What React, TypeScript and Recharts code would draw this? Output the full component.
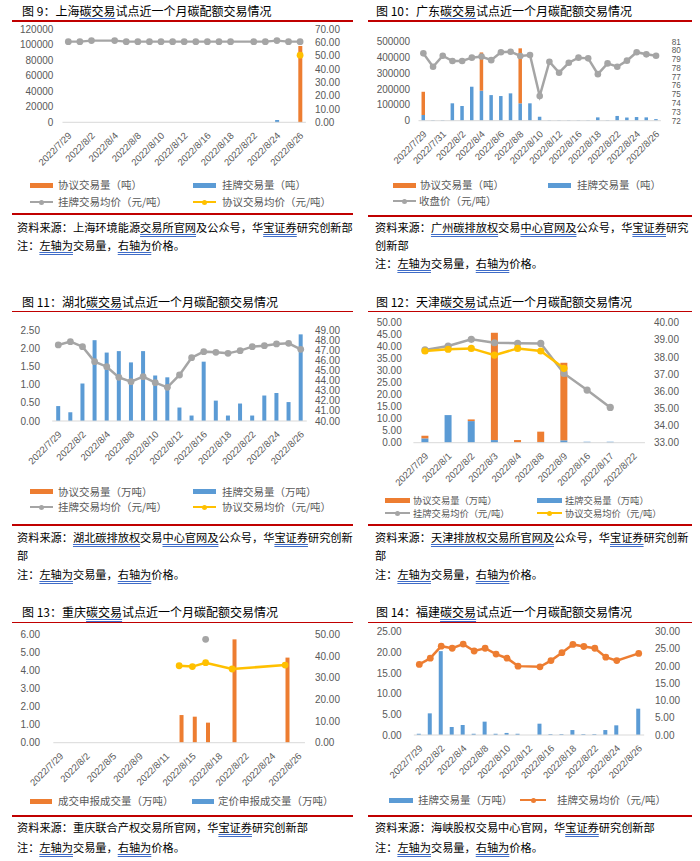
import React from 'react';
import { ComposedChart, Bar, Line, XAxis, YAxis } from 'recharts';

const NUM = '"Liberation Sans", Arial, sans-serif';
const CJK = '"Noto Sans CJK SC", "Noto Sans", sans-serif';
const AX = '#595959';
const ORANGE = '#ED7D31';
const BLUE = '#5B9BD5';
const GRAY = '#A5A5A5';
const YELLOW = '#FFC000';
const RED = '#C00000';
const ULC = '#3f6cc8';

// ---------- 上海 ----------
const shDates = ['2022/7/29','2022/8/1','2022/8/2','2022/8/3','2022/8/4','2022/8/5','2022/8/8','2022/8/9','2022/8/10','2022/8/11','2022/8/12','2022/8/15','2022/8/16','2022/8/17','2022/8/18','2022/8/19','2022/8/22','2022/8/23','2022/8/24','2022/8/25','2022/8/26'];
const shXieyiVol = [null,null,null,null,null,null,null,null,null,null,null,null,null,null,null,null,null,null,null,null,98500];
const shGuapaiVol = [null,null,null,null,null,null,null,null,null,null,null,null,null,null,null,null,null,null,3000,null,null];
const shGuapaiPrice = [60.7,60.7,61.5,null,61.5,60.7,60.7,60.7,60.7,60.7,60.7,60.7,60.7,60.7,60.7,null,60.7,60.7,61.5,60.7,60.7];
const shXieyiPrice = [null,null,null,null,null,null,null,null,null,null,null,null,null,null,null,null,null,null,null,null,50.5];

// ---------- 广东 ----------
const gdDates = ['2022/7/29','2022/7/30','2022/7/31','2022/8/1','2022/8/2','2022/8/3','2022/8/4','2022/8/5','2022/8/6','2022/8/7','2022/8/8','2022/8/9','2022/8/10','2022/8/11','2022/8/12','2022/8/15','2022/8/16','2022/8/17','2022/8/18','2022/8/19','2022/8/22','2022/8/23','2022/8/24','2022/8/25','2022/8/26'];
const gdGuapaiVol = [36000,4000,4000,110000,93000,215000,190000,162000,156000,173000,110000,110000,25000,3000,3000,3000,3000,3000,21000,3000,30000,20000,23000,21000,10000];
const gdXieyiVol = [147000,null,null,null,null,null,242000,null,null,null,348000,null,null,null,null,null,null,null,null,null,null,null,null,null,null];
const gdClose = [79.67,78.15,79.4,78.8,78.8,79.18,79.3,78.9,79.8,79.86,79.37,79.48,74.8,78.72,77.47,78.6,79.18,79.1,77.3,78.53,78.15,78.84,79.8,79.56,79.4];

// ---------- 湖北 ----------
const hbDates = shDates;
const hbGuapaiVol = [0.41,0.24,1.03,2.22,1.88,1.92,1.61,1.92,1.25,1.2,0.37,0.15,1.63,0.56,0.15,0.48,0.15,0.7,0.77,0.52,2.38];
const hbGuapaiPrice = [47.52,47.85,47.35,45.87,45.37,44.32,43.89,44.38,43.79,43.33,44.55,46.26,46.86,46.79,46.69,46.96,47.35,47.45,47.62,47.68,47.09];

// ---------- 天津 ----------
const tjDates = ['2022/7/29','2022/8/1','2022/8/2','2022/8/3','2022/8/4','2022/8/8','2022/8/9','2022/8/16','2022/8/17','2022/8/22'];
const tjGuapaiVol = [1.8,11.5,9.0,1.1,0.1,0.3,1.0,0.4,0.4,null];
const tjXieyiVol = [1.1,null,0.7,44.7,1.0,4.3,32.3,null,null,null];
const tjGuapaiPrice = [38.41,38.64,39.03,38.83,38.8,38.79,37.04,36.07,35.06,null];
const tjXieyiPrice = [38.35,38.45,38.5,38.11,38.5,38.35,37.34,null,null,null];

// ---------- 重庆 ----------
const cqDates = ['2022/7/29','2022/8/1','2022/8/2','2022/8/3','2022/8/5','2022/8/8','2022/8/9','2022/8/10','2022/8/11','2022/8/12','2022/8/15','2022/8/16','2022/8/18','2022/8/19','2022/8/22','2022/8/23','2022/8/24','2022/8/25','2022/8/26'];
const cqChengjiaoVol = [null,null,null,null,null,null,null,null,null,1.53,1.44,1.11,null,5.72,null,null,null,4.71,null];
const cqDingjiaVol = [null,null,null,null,null,null,null,null,null,null,null,null,null,null,null,null,null,null,null];
const cqChengjiaoPrice = [null,null,null,null,null,null,null,null,null,35.5,35.1,36.9,null,34.0,null,null,null,35.8,null];
const cqDingjiaPrice = [null,null,null,null,null,null,null,null,null,null,null,47.7,null,null,null,null,null,null,null];

// ---------- 福建 ----------
const fjDates = shDates;
const fjGuapaiVol = [0.3,5.24,20.3,1.94,2.42,0.3,3.23,0.3,0.5,0.3,null,2.74,0.2,0.2,1.2,0.2,0.2,1.2,2.34,null,6.37];
const fjGuapaiPrice = [20.5,22.3,25.8,25.2,26.4,24.4,25.2,23.5,22.3,20.0,null,19.8,21.6,23.9,26.3,25.7,25.2,22.6,21.6,null,23.7];

const shData = shDates.map((d, i) => ({ d, xv: shXieyiVol[i], gv: shGuapaiVol[i], gp: shGuapaiPrice[i], xp: shXieyiPrice[i] }));
const gdData = gdDates.map((d, i) => ({ d, xv: gdXieyiVol[i], gv: gdGuapaiVol[i], cp: gdClose[i] }));
const hbData = hbDates.map((d, i) => ({ d, xv: null, gv: hbGuapaiVol[i], gp: hbGuapaiPrice[i], xp: null }));
const tjData = tjDates.map((d, i) => ({ d, xv: tjXieyiVol[i], gv: tjGuapaiVol[i], gp: tjGuapaiPrice[i], xp: tjXieyiPrice[i] }));
const cqData = cqDates.map((d, i) => ({ d, cv: cqChengjiaoVol[i], dv: cqDingjiaVol[i], cp: cqChengjiaoPrice[i], dp: cqDingjiaPrice[i] }));
const fjData = fjDates.map((d, i) => ({ d, gv: fjGuapaiVol[i], gp: fjGuapaiPrice[i] }));

type G = { left: number; top: number; width: number; pl: number; pr: number; pt: number; pb: number; lg: number; rg: number; xh: number };
type AC = { domain: [number, number]; ticks: number[]; dec: number; fs?: number };

function RotTick(props: any) {
  const { x, y, payload } = props;
  const ax = x + 4;
  const ay = y + 14;
  return (
    <text x={ax} y={ay} transform={`rotate(-45 ${ax} ${ay})`} textAnchor="end" fontSize={9.5} fill={AX} fontFamily={NUM}>
      {payload.value}
    </text>
  );
}

function axes(g: G, L: AC, R: AC, interval: number) {
  return [
    <XAxis key="x" dataKey="d" interval={interval} axisLine={{ stroke: '#D9D9D9' }} tickLine={false} tickSize={0} tickMargin={0} height={g.xh} tick={(p: any) => <RotTick {...p} />} />,
    <YAxis key="yl" yAxisId="l" orientation="left" width={g.pl - g.left} domain={L.domain} ticks={L.ticks} interval={0}
      tickFormatter={(v: number) => v.toFixed(L.dec)} axisLine={false} tickLine={false} tickSize={0} tickMargin={g.lg}
      tick={{ fontSize: L.fs || 10, fill: AX, fontFamily: NUM }} />,
    <YAxis key="yr" yAxisId="r" orientation="right" width={g.left + g.width - g.pr} domain={R.domain} ticks={R.ticks} interval={0}
      tickFormatter={(v: number) => v.toFixed(R.dec)} axisLine={false} tickLine={false} tickSize={0} tickMargin={g.rg}
      tick={{ fontSize: R.fs || 10, fill: AX, fontFamily: NUM }} />,
  ];
}

function dot(c: string, r = 3.4) {
  return { r, fill: c, stroke: c, strokeWidth: 0 };
}

const g9: G = { left: 0, top: 0, width: 350, pl: 62.5, pr: 305.9, pt: 29.3, pb: 122.3, lg: 9.2, rg: 9.1, xh: 55 };
const g10: G = { left: 350, top: 0, width: 350, pl: 418.5, pr: 660.9, pt: 41.7, pb: 120.7, lg: 8.5, rg: 10.8, xh: 55 };
const g11: G = { left: 0, top: 290, width: 350, pl: 52.2, pr: 306.8, pt: 330, pb: 421, lg: 12.2, rg: 8.2, xh: 55 };
const g12: G = { left: 350, top: 290, width: 350, pl: 413.4, pr: 645, pt: 322.7, pb: 442.7, lg: 11.7, rg: 9, xh: 55 };
const g13: G = { left: 0, top: 600, width: 350, pl: 53.3, pr: 305, pt: 634.3, pb: 742.7, lg: 13.3, rg: 10, xh: 55 };
const g14: G = { left: 350, top: 600, width: 350, pl: 413.8, pr: 644.2, pt: 631.7, pb: 735, lg: 12.1, rg: 10.8, xh: 55 };

function Box({ g, children }: { g: G; children: React.ReactNode }) {
  return <div style={{ position: 'absolute', left: g.left, top: g.top }}>{children}</div>;
}

const ul: React.CSSProperties = { textDecorationLine: 'underline', textDecorationStyle: 'double', textDecorationColor: ULC, textUnderlineOffset: 2 };
const U = ({ children }: { children: React.ReactNode }) => <span style={ul}>{children}</span>;

function T({ x, y, fs = 11.2, color = '#000', children }: { x: number; y: number; fs?: number; color?: string; children: React.ReactNode }) {
  return (
    <div style={{ position: 'absolute', left: x, top: y - 9, height: 18, lineHeight: '18px', fontSize: fs, color, whiteSpace: 'nowrap', fontFamily: CJK }}>
      {children}
    </div>
  );
}

function Title({ x, y, n, region }: { x: number; y: number; n: string; region: string }) {
  return (
    <T x={x} y={y} fs={12}>
      图 {n}：{region}<U>碳交易</U>试点近一个月碳配额交易情况
    </T>
  );
}

function RedLine({ x1, x2, y }: { x1: number; x2: number; y: number }) {
  return <div style={{ position: 'absolute', left: x1, top: y - 0.75, width: x2 - x1, height: 1.5, background: RED }} />;
}

function Leg({ x, y, tx, kind, color, text, fs = 10.5, w = 23 }: { x: number; y: number; tx: number; kind: 'bar' | 'line'; color: string; text: string; fs?: number; w?: number }) {
  return (
    <>
      {kind === 'bar' ? (
        <div style={{ position: 'absolute', left: x, top: y - 2.5, width: w, height: 5, background: color }} />
      ) : (
        <>
          <div style={{ position: 'absolute', left: x, top: y - 1, width: w, height: 2, background: color }} />
          <div style={{ position: 'absolute', left: x + w / 2 - 2.5, top: y - 2.5, width: 5, height: 5, borderRadius: 3, background: color }} />
        </>
      )}
      <T x={tx} y={y} fs={fs} color={AX}>{text}</T>
    </>
  );
}

const Note = ({ x, y }: { x: number; y: number }) => (
  <T x={x} y={y}>注：<U>左轴为</U>交易量，<U>右轴为</U>价格。</T>
);

export default function App() {
  return (
    <div style={{ position: 'absolute', left: 0, top: 0, width: 700, height: 861, background: '#fff', overflow: 'hidden', fontFamily: CJK }}>
      {/* ---------- Row 1 ---------- */}
      <Title x={22} y={11} n="9" region="上海" />
      <Title x={376} y={11} n="10" region="广东" />
      <RedLine x1={12} x2={353} y={21} />
      <RedLine x1={368} x2={692} y={21} />

      <Box g={g9}>
        <ComposedChart width={g9.width} height={g9.pb - g9.top + g9.xh} data={shData} margin={{ top: g9.pt - g9.top, right: 0, left: 0, bottom: 0 }}>
          {axes(g9, { domain: [0, 120000], ticks: [0, 20000, 40000, 60000, 80000, 100000, 120000], dec: 0 }, { domain: [0, 70], ticks: [0, 10, 20, 30, 40, 50, 60, 70], dec: 2 }, 1)}
          <Bar yAxisId="l" dataKey="gv" stackId="s" fill={BLUE} barSize={4} isAnimationActive={false} />
          <Bar yAxisId="l" dataKey="xv" stackId="s" fill={ORANGE} barSize={4} isAnimationActive={false} />
          <Line yAxisId="r" type="linear" dataKey="gp" stroke={GRAY} strokeWidth={2.25} dot={dot(GRAY)} activeDot={false} connectNulls isAnimationActive={false} />
          <Line yAxisId="r" type="linear" dataKey="xp" stroke={YELLOW} strokeWidth={2.25} dot={dot(YELLOW)} activeDot={false} connectNulls isAnimationActive={false} />
        </ComposedChart>
      </Box>
      <Leg x={30} y={185} tx={58} kind="bar" color={ORANGE} text="协议交易量（吨）" />
      <Leg x={193} y={185} tx={222} kind="bar" color={BLUE} text="挂牌交易量（吨）" />
      <Leg x={30} y={202} tx={58} kind="line" color={GRAY} text="挂牌交易均价（元/吨）" />
      <Leg x={193} y={202} tx={222} kind="line" color={YELLOW} text="协议交易均价（元/吨）" />
      <RedLine x1={12} x2={353} y={214} />
      <T x={17} y={227}>资料来源：上海环境能源<U>交易所官网</U>及公众号，华<U>宝证券</U>研究创新部</T>
      <Note x={17} y={245} />

      <Box g={g10}>
        <ComposedChart width={g10.width} height={g10.pb - g10.top + g10.xh} data={gdData} margin={{ top: g10.pt - g10.top, right: 0, left: 0, bottom: 0 }}>
          {axes(g10, { domain: [0, 500000], ticks: [0, 100000, 200000, 300000, 400000, 500000], dec: 0 }, { domain: [72, 81], ticks: [72, 73, 74, 75, 76, 77, 78, 79, 80, 81], dec: 0, fs: 8.2 }, 1)}
          <Bar yAxisId="l" dataKey="gv" stackId="s" fill={BLUE} barSize={3.5} isAnimationActive={false} />
          <Bar yAxisId="l" dataKey="xv" stackId="s" fill={ORANGE} barSize={3.5} isAnimationActive={false} />
          <Line yAxisId="r" type="linear" dataKey="cp" stroke={GRAY} strokeWidth={2.5} dot={dot(GRAY, 3.3)} activeDot={false} connectNulls isAnimationActive={false} />
        </ComposedChart>
      </Box>
      <Leg x={393} y={185} tx={420} kind="bar" color={ORANGE} text="协议交易量（吨）" />
      <Leg x={548} y={185} tx={577} kind="bar" color={BLUE} text="挂牌交易量（吨）" />
      <Leg x={393} y={201} tx={419} kind="line" color={GRAY} text="收盘价（元/吨）" />
      <RedLine x1={368} x2={692} y={216} />
      <T x={375} y={227}>资料来源：<U>广州碳排放权</U>交易<U>中心官网及</U>公众号，华<U>宝证券</U>研究</T>
      <T x={375} y={245}>创新部</T>
      <Note x={375} y={263} />

      {/* ---------- Row 2 ---------- */}
      <Title x={22} y={301.5} n="11" region="湖北" />
      <Title x={376} y={301.5} n="12" region="天津" />
      <RedLine x1={12} x2={353} y={311.5} />
      <RedLine x1={368} x2={692} y={311.5} />

      <Box g={g11}>
        <ComposedChart width={g11.width} height={g11.pb - g11.top + g11.xh} data={hbData} margin={{ top: g11.pt - g11.top, right: 0, left: 0, bottom: 0 }}>
          {axes(g11, { domain: [0, 2.5], ticks: [0, 0.5, 1, 1.5, 2, 2.5], dec: 2 }, { domain: [40, 49], ticks: [40, 41, 42, 43, 44, 45, 46, 47, 48, 49], dec: 2 }, 1)}
          <Bar yAxisId="l" dataKey="gv" stackId="s" fill={BLUE} barSize={4} isAnimationActive={false} />
          <Bar yAxisId="l" dataKey="xv" stackId="s" fill={ORANGE} barSize={4} isAnimationActive={false} />
          <Line yAxisId="r" type="linear" dataKey="gp" stroke={GRAY} strokeWidth={2.5} dot={dot(GRAY, 3.4)} activeDot={false} connectNulls isAnimationActive={false} />
          <Line yAxisId="r" type="linear" dataKey="xp" stroke={YELLOW} strokeWidth={2.5} dot={dot(YELLOW, 3.4)} activeDot={false} connectNulls isAnimationActive={false} />
        </ComposedChart>
      </Box>
      <Leg x={30} y={491.5} tx={58} kind="bar" color={ORANGE} text="协议交易量（万吨）" />
      <Leg x={193} y={491.5} tx={222} kind="bar" color={BLUE} text="挂牌交易量（万吨）" />
      <Leg x={30} y={507} tx={58} kind="line" color={GRAY} text="挂牌交易均价（元/吨）" />
      <Leg x={193} y={507} tx={222} kind="line" color={YELLOW} text="协议交易均价（元/吨）" />

      <Box g={g12}>
        <ComposedChart width={g12.width} height={g12.pb - g12.top + g12.xh} data={tjData} margin={{ top: g12.pt - g12.top, right: 0, left: 0, bottom: 0 }}>
          {axes(g12, { domain: [0, 50], ticks: [0, 5, 10, 15, 20, 25, 30, 35, 40, 45, 50], dec: 2 }, { domain: [33, 40], ticks: [33, 34, 35, 36, 37, 38, 39, 40], dec: 2 }, 0)}
          <Bar yAxisId="l" dataKey="gv" stackId="s" fill={BLUE} barSize={7} isAnimationActive={false} />
          <Bar yAxisId="l" dataKey="xv" stackId="s" fill={ORANGE} barSize={7} isAnimationActive={false} />
          <Line yAxisId="r" type="linear" dataKey="gp" stroke={GRAY} strokeWidth={2.5} dot={dot(GRAY, 3.6)} activeDot={false} connectNulls isAnimationActive={false} />
          <Line yAxisId="r" type="linear" dataKey="xp" stroke={YELLOW} strokeWidth={2.5} dot={dot(YELLOW, 3.6)} activeDot={false} connectNulls isAnimationActive={false} />
        </ComposedChart>
      </Box>
      <Leg x={385} y={500} tx={413} kind="bar" color={ORANGE} text="协议交易量（万吨）" fs={9.3} w={25} />
      <Leg x={537} y={500} tx={565} kind="bar" color={BLUE} text="挂牌交易量（万吨）" fs={9.3} w={25} />
      <Leg x={385} y={513} tx={413} kind="line" color={GRAY} text="挂牌交易均价（元/吨）" fs={9.3} w={25} />
      <Leg x={537} y={513} tx={565} kind="line" color={YELLOW} text="协议交易均价（元/吨）" fs={9.3} w={25} />

      <RedLine x1={12} x2={353} y={525} />
      <RedLine x1={368} x2={692} y={525} />
      <T x={17} y={537}>资料来源：<U>湖北碳排放权</U>交易<U>中心官网及</U>公众号，华<U>宝证券</U>研究创新</T>
      <T x={17} y={555}>部</T>
      <Note x={17} y={574} />
      <T x={375} y={537}>资料来源：<U>天津排放权交易所官网及</U>公众号，华<U>宝证券</U>研究创新</T>
      <T x={375} y={555}>部</T>
      <Note x={375} y={574} />

      {/* ---------- Row 3 ---------- */}
      <Title x={22} y={611.5} n="13" region="重庆" />
      <Title x={376} y={611.5} n="14" region="福建" />
      <RedLine x1={12} x2={353} y={622.5} />
      <RedLine x1={368} x2={692} y={622.5} />

      <Box g={g13}>
        <ComposedChart width={g13.width} height={g13.pb - g13.top + g13.xh} data={cqData} barGap={1} margin={{ top: g13.pt - g13.top, right: 0, left: 0, bottom: 0 }}>
          {axes(g13, { domain: [0, 6], ticks: [0, 1, 2, 3, 4, 5, 6], dec: 2 }, { domain: [0, 50], ticks: [0, 10, 20, 30, 40, 50], dec: 2 }, 1)}
          <Bar yAxisId="l" dataKey="dv" fill={BLUE} barSize={4} isAnimationActive={false} />
          <Bar yAxisId="l" dataKey="cv" fill={ORANGE} barSize={4} isAnimationActive={false} />
          <Line yAxisId="r" type="linear" dataKey="dp" stroke={GRAY} strokeWidth={2.5} dot={dot(GRAY, 3.4)} activeDot={false} connectNulls isAnimationActive={false} />
          <Line yAxisId="r" type="linear" dataKey="cp" stroke={YELLOW} strokeWidth={2.5} dot={dot(YELLOW, 3.4)} activeDot={false} connectNulls isAnimationActive={false} />
        </ComposedChart>
      </Box>
      <Leg x={30} y={801} tx={58} kind="bar" color={ORANGE} text="成交申报成交量（万吨）" w={22} />
      <Leg x={192} y={801} tx={218} kind="bar" color={BLUE} text="定价申报成交量（万吨）" w={22} />

      <Box g={g14}>
        <ComposedChart width={g14.width} height={g14.pb - g14.top + g14.xh} data={fjData} margin={{ top: g14.pt - g14.top, right: 0, left: 0, bottom: 0 }}>
          {axes(g14, { domain: [0, 25], ticks: [0, 5, 10, 15, 20, 25], dec: 2 }, { domain: [0, 30], ticks: [0, 5, 10, 15, 20, 25, 30], dec: 2 }, 1)}
          <Bar yAxisId="l" dataKey="gv" fill={BLUE} barSize={4} isAnimationActive={false} />
          <Line yAxisId="r" type="linear" dataKey="gp" stroke={ORANGE} strokeWidth={2.5} dot={dot(ORANGE, 3.4)} activeDot={false} connectNulls isAnimationActive={false} />
        </ComposedChart>
      </Box>
      <Leg x={389} y={800} tx={418} kind="bar" color={BLUE} text="挂牌交易量（万吨）" w={24} />
      <Leg x={520} y={800} tx={557} kind="line" color={ORANGE} text="挂牌交易均价（元/吨）" w={26} />

      <RedLine x1={12} x2={353} y={816} />
      <RedLine x1={368} x2={692} y={816} />
      <T x={17} y={827}>资料来源：重庆联合产权交易所官网，华<U>宝证券</U>研究创新部</T>
      <Note x={17} y={847} />
      <T x={375} y={827}>资料来源：海峡股权交易中心官网，华<U>宝证券</U>研究创新部</T>
      <Note x={375} y={847} />
    </div>
  );
}
